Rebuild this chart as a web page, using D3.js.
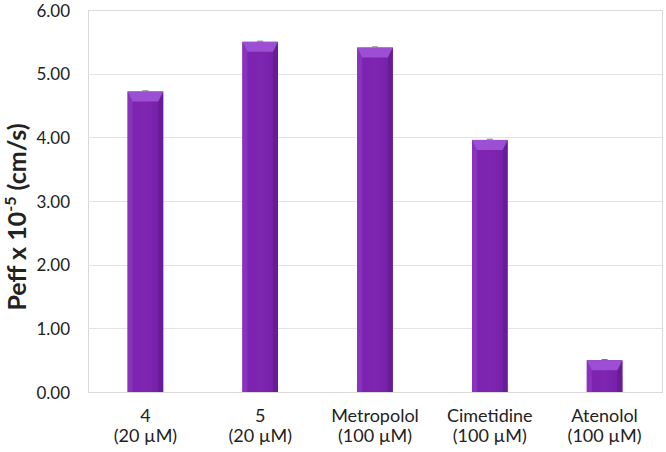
<!DOCTYPE html>
<html><head><meta charset="utf-8">
<script src="https://cdn.jsdelivr.net/npm/d3@7"></script>
<style>body{margin:0;background:#fff}svg{display:block}text{font-family:Lato,"Open Sans",sans-serif;fill:#222}</style>
</head><body><svg id="c" width="666" height="452"></svg>
<script>
const categories = ["4","5","Metropolol","Cimetidine","Atenolol"];
const concentrations = ["(20 µM)","(20 µM)","(100 µM)","(100 µM)","(100 µM)"];
const values = [4.72, 5.50, 5.41, 3.96, 0.50];
const errors = [0.01, 0.01, 0.01, 0.01, 0.01];
const yTicks = [0,1,2,3,4,5,6];

const svg = d3.select("#c");
const m = {l:88, r:4, t:10, b:60};
const W = 666, H = 452;
const x = d3.scaleBand().domain(categories).range([m.l, W-m.r]).paddingInner(0.69).paddingOuter(0.345);
const y = d3.scaleLinear().domain([0,6]).range([H-m.b, m.t]);

const defs = svg.append("defs");
const g1 = defs.append("linearGradient").attr("id","bg").attr("x1","0").attr("x2","1").attr("y1","0").attr("y2","0");
g1.append("stop").attr("offset","0").attr("stop-color","#7a24ae");
g1.append("stop").attr("offset","0.5").attr("stop-color","#7e25b2");
g1.append("stop").attr("offset","1").attr("stop-color","#7420a6");

// plot frame
svg.append("rect").attr("x",m.l+0.5).attr("y",m.t+0.5).attr("width",W-m.r-m.l).attr("height",H-m.b-m.t)
  .attr("fill","none").attr("stroke","#d9d9d9").attr("stroke-width",1);
// gridlines
svg.append("g").selectAll("line").data(yTicks.slice(1,-1)).join("line")
  .attr("x1",m.l).attr("x2",W-m.r).attr("y1",d=>Math.round(y(d))+0.5).attr("y2",d=>Math.round(y(d))+0.5)
  .attr("stroke","#e3e3e3");

// y axis
const ya = svg.append("g").attr("transform",`translate(${m.l},0)`)
  .call(d3.axisLeft(y).tickValues(yTicks).tickFormat(d3.format(".2f")).tickSize(0).tickPadding(18));
ya.select(".domain").remove();
ya.selectAll("text").style("font-size","17px").attr("fill","#222").attr("dy","0.36em");

// bars
const bars = svg.append("g").selectAll("g").data(values).join("g");
const geo = (d,i)=>{ const x0=x(categories[i]), w=x.bandwidth(), t=y(d), b=y(0);
  const bt=Math.min(10,(b-t)/2), bs=5; return {x0,w,t,b,bt,bs}; };
bars.append("rect")
  .attr("x",(d,i)=>x(categories[i])).attr("width",x.bandwidth())
  .attr("y",d=>y(d)).attr("height",d=>y(0)-y(d)).attr("fill","url(#bg)");
// left side bevel
bars.append("path").attr("d",(d,i)=>{const g=geo(d,i);
  return `M${g.x0},${g.t}L${g.x0+g.bs},${g.t+g.bt}L${g.x0+g.bs},${g.b}L${g.x0},${g.b}Z`;})
  .attr("fill","#8a32bf");
// right side bevel
bars.append("path").attr("d",(d,i)=>{const g=geo(d,i);
  return `M${g.x0+g.w},${g.t}L${g.x0+g.w-g.bs},${g.t+g.bt}L${g.x0+g.w-g.bs},${g.b}L${g.x0+g.w},${g.b}Z`;})
  .attr("fill","#681c98");
// top bevel
bars.append("path").attr("d",(d,i)=>{const g=geo(d,i);
  return `M${g.x0},${g.t}L${g.x0+g.w},${g.t}L${g.x0+g.w-g.bs},${g.t+g.bt}L${g.x0+g.bs},${g.t+g.bt}Z`;})
  .attr("fill","#9c4fd2");
// error bars
bars.append("line").attr("x1",(d,i)=>x(categories[i])+x.bandwidth()/2-3).attr("x2",(d,i)=>x(categories[i])+x.bandwidth()/2+3)
  .attr("y1",(d,i)=>y(d+errors[i])).attr("y2",(d,i)=>y(d+errors[i])).attr("stroke","#777").attr("stroke-width",1);

// x labels
const xl = svg.append("g");
categories.forEach((c,i)=>{
  const cx = x(c)+x.bandwidth()/2;
  xl.append("text").attr("x",cx).attr("y",422).attr("text-anchor","middle").style("font-size","18px").text(c);
  xl.append("text").attr("x",cx).attr("y",442).attr("text-anchor","middle").style("font-size","18px").text(concentrations[i]);
});

// y title
const yt = svg.append("text").attr("transform",`translate(26,217) rotate(-90)`)
  .attr("text-anchor","middle").style("font-size","25px").style("font-weight","bold").attr("fill","#111");
yt.append("tspan").text("Peff x 10");
yt.append("tspan").attr("dy","-10").style("font-size","16px").text("-5");
yt.append("tspan").attr("dy","10").text(" (cm/s)");
</script></body></html>
